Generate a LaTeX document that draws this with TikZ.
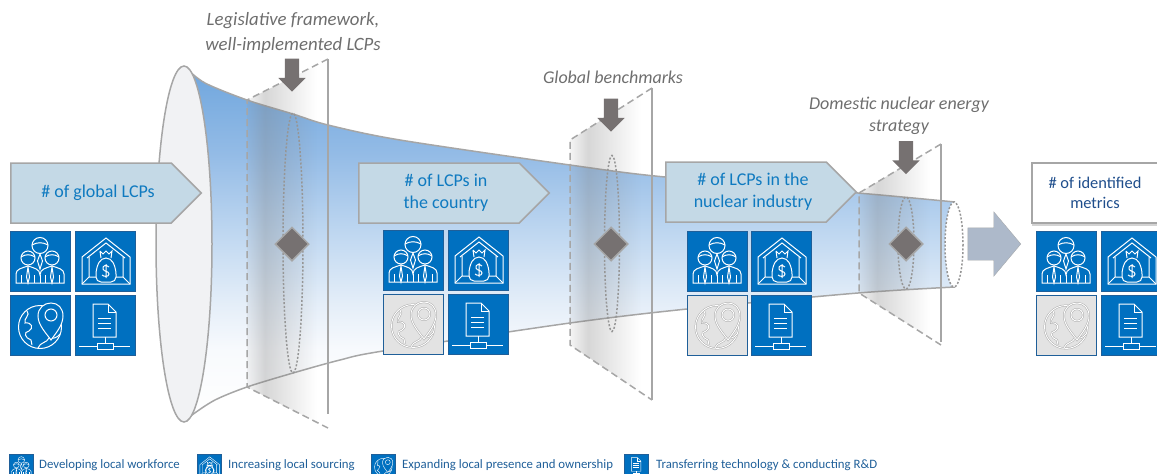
\documentclass[tikz,border=0pt]{standalone}
\usepackage{fontspec}
\setmainfont{Carlito}
\usetikzlibrary{shapes.geometric,shapes.symbols,shapes.arrows,fadings,shadows}

\definecolor{lcpblue}{HTML}{0070C0}
\definecolor{lcpedge}{HTML}{1F5F99}
\definecolor{tagfill}{HTML}{C4D9E6}
\definecolor{tagtext}{HTML}{0F7AC0}
\definecolor{metrictext}{HTML}{1F4E8C}
\definecolor{legendtext}{HTML}{1F5F99}
\definecolor{capgray}{HTML}{6E6E6E}
\definecolor{arrowgray}{HTML}{767171}
\definecolor{bigarrow}{HTML}{ADB9CA}
\definecolor{linegray}{HTML}{A6A6A6}
\definecolor{dotgray}{HTML}{969696}
\definecolor{tilegray}{HTML}{E3E3E3}
\definecolor{discfill}{HTML}{F1F2F4}
\definecolor{funnelA}{HTML}{6FA6DD}
\definecolor{funnelB}{HTML}{93BBE6}
\definecolor{funnelC}{HTML}{C5DBF2}
\definecolor{funnelD}{HTML}{E3EDF8}
\definecolor{funnelE}{HTML}{F8FAFD}

\pgfdeclareverticalshading{funnelshade}{100bp}{color(0bp)=(white); color(25bp)=(white); color(35bp)=(funnelE); color(42bp)=(funnelD); color(50bp)=(funnelC); color(63bp)=(funnelB); color(75bp)=(funnelA); color(100bp)=(funnelA)}
\pgfdeclarehorizontalshading{planeshade}{100bp}{color(0bp)=(pgftransparent!95); color(25bp)=(pgftransparent!92); color(36bp)=(pgftransparent!68); color(68bp)=(pgftransparent!100); color(100bp)=(pgftransparent!100)}
\pgfdeclarefading{planefade}{\pgfuseshading{planeshade}}

\tikzstyle{tag} = [signal, signal to=east, signal pointer angle=90, draw=linegray, line width=1.5pt, fill=tagfill, text=tagtext, minimum width=190.5pt, minimum height=60pt, anchor=west, align=center, inner sep=0pt, font=\fontsize{18}{22}\selectfont]
\tikzstyle{whitebox} = [rectangle, draw=linegray, line width=1.5pt, fill=white, text=metrictext, minimum height=60pt, minimum width=126pt, align=center, font=\fontsize{16.4}{20}\selectfont, drop shadow={shadow xshift=0pt, shadow yshift=-2.5pt, opacity=.35}]
\tikzstyle{caption} = [align=center, text=capgray, font=\fontsize{18}{22}\selectfont\itshape]
\tikzstyle{legend} = [anchor=west, inner sep=0pt, text=legendtext, font=\fontsize{12.8}{14}\selectfont]
\tikzstyle{downblock} = [single arrow, rotate=-90, fill=arrowgray, text height=14pt, text depth=0pt, minimum width=27pt, minimum height=33pt, single arrow head extend=6.5pt, single arrow tip angle=90, inner sep=0pt]
\tikzstyle{gate} = [diamond, fill=arrowgray, draw=linegray, line width=1.5pt, minimum size=34pt, inner sep=0pt]
\tikzstyle{planeedge} = [draw=linegray, line width=1.5pt]
\tikzstyle{planedash} = [planeedge, dash pattern=on 7pt off 4pt]
\tikzstyle{ringdots} = [draw=dotgray, line width=1.5pt, dash pattern=on 2pt off 1.8pt]
\tikzstyle{globeink} = [white]
\tikzstyle{bigicon} = [line width=1pt]
\tikzstyle{fadedicon} = [bigicon, globeink/.style={draw=gray!65, double=white, double distance=.9pt, line width=.5pt}]
\tikzstyle{smallicon} = [scale=.41, line width=.4pt]

\newcommand{\tagshift}{\hspace*{14pt}}
\def\funneltop{(186,68) (205,83) (247,100) (293,114) (328,125) (400,140) (570,165) (665,177) (858,193) (955,202)}
\def\funnelbottom{(955,287) (858,293) (687,309) (570,323) (383,351) (340,360) (293,373) (247,387) (215,400) (192,415) (186,421)}

\tikzset{
    pics/workforce/.style={code={
        \fill[lcpblue, draw=lcpedge] (0,0) rectangle (60,60);
        \draw[white, fill=lcpblue] (30,14.5) circle [radius=8];
        \draw[white] (22,14) .. controls (27,11) and (33,11) .. (38,14);
        \draw[white, fill=lcpblue] (18,27) circle [radius=7];
        \draw[white, fill=lcpblue] (42,27) circle [radius=7];
        \draw[white] (11,26) .. controls (15,23) and (21,23) .. (25,26) (35,26) .. controls (39,23) and (45,23) .. (49,26);
        \draw[white] (6,52) -- (6,43) .. controls (6,38) and (12,37) .. (18,35) .. controls (24,37) and (30,38) .. (30,44) .. controls (30,38) and (36,37) .. (42,35) .. controls (48,37) and (54,38) .. (54,43) -- (54,52) -- cycle;
        \draw[white] (11,44) -- (11,52) (24.5,44) -- (24.5,52) (30,44) -- (30,52) (35.5,44) -- (35.5,52) (49,44) -- (49,52);
        \draw[white] (18,36) -- (16.5,46) -- (18,52) -- (19.5,46) -- cycle (42,36) -- (40.5,46) -- (42,52) -- (43.5,46) -- cycle;
        \draw[white] (30,23) -- (27.5,30) -- (30,38) -- (32.5,30) -- cycle;
    }},
    pics/sourcing/.style={code={
        \fill[lcpblue, draw=lcpedge] (0,0) rectangle (60,60);
        \draw[white] (7,53) -- (7,26) -- (31,7) -- (55,26) -- (55,53) -- cycle;
        \draw[white] (12,27) -- (31,12) -- (50,27);
        \draw[white] (14,26) -- (14,46) -- (7,53) (48,26) -- (48,46) -- (55,53) (14,46) -- (21,46) (41,46) -- (48,46);
        \draw[white, fill=lcpblue, rounded corners=5pt] (26,27) -- (21,38) -- (21,51) -- (41,51) -- (41,38) -- (36,27) -- cycle;
        \draw[white] (25,20) -- (28,23) -- (31,20) -- (34,23) -- (37,20) -- (36,27) (25,20) -- (26,27);
        \draw[white] (34,36) .. controls (31,33) and (27,35) .. (28,38) .. controls (29,41) and (34,40) .. (34,43) .. controls (34,46) and (29,46) .. (27,44) (31,33) -- (31,47);
    }},
    pics/globe/.style={code={
        \fill[#1, draw=lcpedge] (0,0) rectangle (60,60);
        \draw[globeink] (30,32) circle [radius=21.5];
        \draw[globeink] (17,16) .. controls (21,20) and (13,24) .. (15,28) .. controls (22,27) and (24,33) .. (19,36) .. controls (13,37) and (15,43) .. (21,45) -- (22,50);
        \draw[globeink] (28,53) .. controls (30,47) and (37,48) .. (39,43) .. controls (43,44) and (47,43) .. (50,39);
        \draw[globeink, fill=#1] (41,45) .. controls (36,38) and (28,30) .. (28,21) .. controls (28,13) and (34,8) .. (41,8) .. controls (48,8) and (53,13) .. (53,21) .. controls (53,30) and (46,38) .. (41,45) -- cycle;
        \draw[globeink] (41,20) circle [radius=6];
    }},
    pics/globe/.default=lcpblue,
    pics/techdoc/.style={code={
        \fill[lcpblue, draw=lcpedge] (0,0) rectangle (60,60);
        \draw[white] (18,9) -- (33,9) -- (41,17) -- (41,42) -- (18,42) -- cycle;
        \draw[white] (33,9) -- (33,17) -- (41,17);
        \draw[white] (23,23) -- (36,23) (23,28) -- (36,28) (23,33) -- (36,33);
        \draw[white] (30,42) -- (30,48);
        \draw[white] (22,48) rectangle (38,54);
        \draw[white] (4,51) -- (22,51) (38,51) -- (55,51);
    }}
}

\begin{document}
\begin{tikzpicture}[x=1pt,y=-1pt]

        \useasboundingbox (0,0) rectangle (1157,474);

        % funnel
        \shade[shading=funnelshade] plot[smooth] coordinates {\funneltop} -- plot[smooth] coordinates {\funnelbottom} -- cycle;
        \draw[planeedge] plot[smooth] coordinates {\funneltop};
        \draw[planeedge] plot[smooth] coordinates {\funnelbottom};
        \draw[planeedge, fill=discfill] (184,244) ellipse [x radius=28, y radius=178];
        \draw[ringdots, fill=white] (954,244.5) ellipse [x radius=9, y radius=42.5];

        % planes
        \fill[gray, path fading=planefade] (247,100) -- (328,59) -- (328,428) -- (247,387) -- cycle;
        \draw[planedash] (328,59) -- (247,100) -- (247,387) -- (328,428);
        \draw[planeedge] (328,59) -- (328,414);
        \draw[ringdots] (293,243) ellipse [x radius=10, y radius=130];

        \fill[gray, path fading=planefade] (570,140) -- (652,88) -- (652,400) -- (570,345) -- cycle;
        \draw[planedash] (652,88) -- (570,140) -- (570,345) -- (652,400);
        \draw[planeedge] (652,88) -- (652,400);
        \draw[ringdots] (612,243.5) ellipse [x radius=7.5, y radius=88];

        \fill[gray, path fading=planefade] (859,193) -- (941,144) -- (941,345) -- (859,293) -- cycle;
        \draw[planedash] (941,144) -- (859,193) -- (859,293) -- (941,345);
        \draw[planeedge] (941,144) -- (941,342);
        \draw[ringdots] (906,243) ellipse [x radius=8, y radius=46];

        % gates
        \node (gateA) [gate] at (292,244) {};
        \node (gateB) [gate] at (611,244) {};
        \node (gateC) [gate] at (906,244) {};
        \node (inputA) [downblock] at (292,71.5) {};
        \node (inputB) [downblock] at (611,111.5) {};
        \node (inputC) [downblock] at (906,154) {};

        % captions
        \node (capA) [caption, font=\fontsize{18.8}{25}\selectfont\itshape] at (293,32.5) {Legislative framework,\\well-implemented LCPs};
        \node (capB) [caption] at (613,77) {Global benchmarks};
        \node (capC) [caption] at (899,116) {Domestic nuclear energy\\strategy};

        % tags
        \node (tagGlobal) [tag] at (10,193) {\tagshift\# of global LCPs};
        \node (tagCountry) [tag] at (358,193) {\tagshift\# of LCPs in\\\tagshift the country};
        \node (tagNuclear) [tag] at (665,192) {\tagshift\# of LCPs in the\\\tagshift nuclear industry};
        \node (metrics) [whitebox] at (1095,193) {\# of identified\\metrics};
        \node (output) [single arrow, fill=bigarrow, draw=linegray!80!bigarrow, text height=32pt, text depth=0pt, minimum width=64pt, minimum height=53pt, single arrow head extend=16pt, single arrow tip angle=100, inner sep=0pt] at (987.5,244) {};

        % icons
        \pic[bigicon] at (10,231) {workforce};
        \pic[bigicon] at (75,231) {sourcing};
        \pic[bigicon] at (10,295) {globe};
        \pic[bigicon] at (75,295) {techdoc};

        \pic[bigicon] at (383,230) {workforce};
        \pic[bigicon] at (448,230) {sourcing};
        \pic[fadedicon] at (383,294) {globe=tilegray};
        \pic[bigicon] at (448,294) {techdoc};

        \pic[bigicon] at (687,231) {workforce};
        \pic[bigicon] at (751,231) {sourcing};
        \pic[fadedicon] at (687,295) {globe=tilegray};
        \pic[bigicon] at (751,295) {techdoc};

        \pic[bigicon] at (1036,231) {workforce};
        \pic[bigicon] at (1101,231) {sourcing};
        \pic[fadedicon] at (1036,295) {globe=tilegray};
        \pic[bigicon] at (1101,295) {techdoc};

        % legend
        \pic[smallicon] at (9,454) {workforce};
        \pic[smallicon] at (197,454) {sourcing};
        \pic[smallicon] at (371,454) {globe};
        \pic[smallicon] at (624,454) {techdoc};
        \node (legWorkforce) [legend] at (39,465.5) {Developing local workforce};
        \node (legSourcing) [legend] at (228,465.5) {Increasing local sourcing};
        \node (legPresence) [legend] at (402,465.5) {Expanding local presence and ownership};
        \node (legTransfer) [legend] at (656,465.5) {Transferring technology \& conducting R\&D};

    \end{tikzpicture}
\end{document}
